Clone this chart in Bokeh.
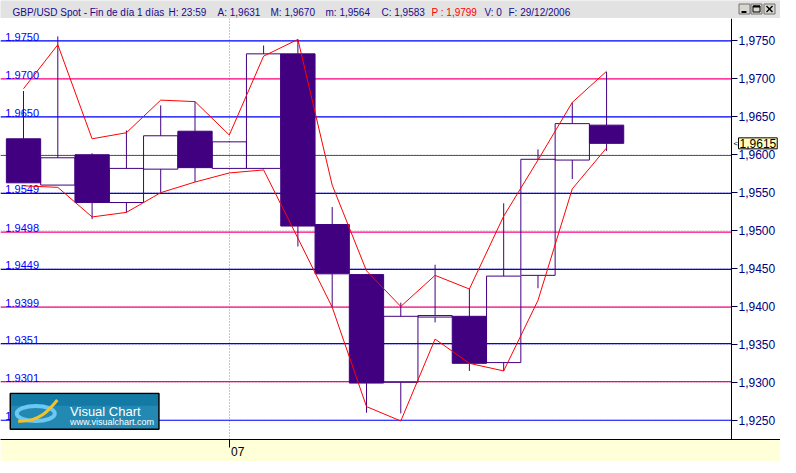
import numpy as np
from bokeh.plotting import figure
from bokeh.layouts import column
from bokeh.models import (Range1d, FixedTicker, CustomJSTickFormatter, Label,
                          ColumnDataSource, LinearAxis)
from bokeh.core.properties import value
from bokeh.embed import file_html
from bokeh.resources import INLINE

# ---------------- data ----------------
day = list(range(18))
open_ = [1.9621, 1.9560, 1.9600, 1.9537, 1.9581, 1.9631, 1.9582, 1.9582, 1.9733,
         1.9508, 1.9442, 1.9300, 1.9386, 1.9387, 1.9326, 1.9441, 1.9593, 1.9639]
high = [1.9684, 1.9756, 1.9602, 1.9632, 1.9665, 1.9670, 1.9618, 1.9744, 1.9752,
        1.9531, 1.9443, 1.9405, 1.9455, 1.9423, 1.9536, 1.9607, 1.9669, 1.9709]
low = [1.9563, 1.9560, 1.9515, 1.9524, 1.9550, 1.9564, 1.9581, 1.9581, 1.9479,
       1.9399, 1.9260, 1.9259, 1.9379, 1.9315, 1.9315, 1.9424, 1.9568, 1.9605]
close = [1.9563, 1.9596, 1.9537, 1.9582, 1.9625, 1.9583, 1.9617, 1.9733, 1.9506,
         1.9443, 1.9299, 1.9387, 1.9388, 1.9325, 1.9440, 1.9594, 1.9641, 1.9615]
env_upper = [1.9687, 1.9745, 1.9621, 1.9629, 1.9672, 1.9670, 1.9626, 1.9730, 1.9752,
             1.9560, 1.9447, 1.9400, 1.9441, 1.9423, 1.9519, 1.9593, 1.9669, 1.9710]
env_lower = [1.9559, 1.9557, 1.9518, 1.9524, 1.9550, 1.9564, 1.9576, 1.9580, 1.9490,
             1.9399, 1.9268, 1.9249, 1.9357, 1.9325, 1.9315, 1.9408, 1.9555, 1.9609]
level_labels = ["1.9750", "1.9700", "1.9650", "1.9599", "1.9549", "1.9498",
                "1.9449", "1.9399", "1.9351", "1.9301", "1.9250"]
axis_ticks = [1.9250, 1.9300, 1.9350, 1.9400, 1.9450, 1.9500,
              1.9550, 1.9600, 1.9650, 1.9700, 1.9750]
year_tick = [6]
year_label = ["07"]
last_price = 1.9615
last_price_text = "1,9615"

header_texts = ["GBP/USD Spot - Fin de día 1 días", "H: 23:59", "A: 1,9631", "M: 1,9670",
                "m: 1,9564", "C: 1,9583", "P : 1,9799", "V: 0", "F: 29/12/2006"]
header_x = [12, 168, 217, 270, 325, 381, 431, 484, 508]
header_colors = ["#1a0a8c"] * 6 + ["#ff0000", "#1a0a8c", "#1a0a8c"]

FONT = "Liberation Sans"
PURPLE = "#400080"
BLUE = "#0000ff"
PINK = "#ff0080"

# ---------------- header bar ----------------
W = 780
hdr = figure(frame_width=W, frame_height=18, x_range=Range1d(0, W), y_range=Range1d(18, 0),
             toolbar_location=None, output_backend="svg", x_axis_type=None, y_axis_type=None,
             min_border=0, min_border_left=0, min_border_right=0, min_border_top=0,
             min_border_bottom=0)
hdr.outline_line_color = None
hdr.grid.visible = False
hdr.background_fill_color = "#e2e2e2"
hdr.border_fill_color = "#e2e2e2"
hdr.text(x=header_x, y=[12] * len(header_x), text=header_texts, text_color=header_colors,
         text_font=value(FONT), text_font_size="10px", text_baseline="alphabetic")
bx = [W - 36, W - 24, W - 11]
hdr.rect(x=bx, y=[8.5] * 3, width=11, height=10, fill_color="#d8d6d0", line_color="#707070")
hdr.segment(x0=[bx[0] - 3], y0=[11.5], x1=[bx[0] + 2], y1=[11.5], line_color="black", line_width=2)
hdr.rect(x=[bx[1]], y=[8.5], width=7, height=6, fill_alpha=0, line_color="black", line_width=1)
hdr.segment(x0=[bx[1] - 3.5], y0=[6], x1=[bx[1] + 3.5], y1=[6], line_color="black", line_width=2)
hdr.segment(x0=[bx[2] - 3, bx[2] - 3], y0=[5.5, 11.5], x1=[bx[2] + 3, bx[2] + 3], y1=[11.5, 5.5],
            line_color="black", line_width=1.5)

# ---------------- main chart ----------------
X0, X1 = -0.671, 22.071      # full window width
AXIS_X = 20.643              # where the price axis stands
Y0, Y1 = 1.92246, 1.97796
p = figure(frame_width=W, frame_height=421, x_range=Range1d(X0, X1), y_range=Range1d(Y0, Y1),
           y_axis_location=None, toolbar_location=None, output_backend="svg",
           min_border_left=0, min_border_right=0, min_border_top=0, min_border_bottom=18)
p.outline_line_color = None
p.background_fill_color = "white"
p.border_fill_color = "#ffffd8"
p.ygrid.visible = False

# right price axis (drawn at a fixed place inside the window)
yax = LinearAxis(fixed_location=AXIS_X)
yax.ticker = FixedTicker(ticks=axis_ticks)
yax.formatter = CustomJSTickFormatter(code="return tick.toFixed(4).replace('.', ',');")
yax.axis_line_color = "black"
yax.axis_line_width = 1
yax.major_tick_out = 6
yax.major_tick_in = 0
yax.major_tick_line_color = "#000040"
yax.minor_tick_line_color = None
yax.major_label_standoff = 1
yax.major_label_text_font = FONT
yax.major_label_text_font_size = "12px"
yax.major_label_text_color = "#000080"
p.add_layout(yax, "right")

# bottom time axis
NBSP = "\u00a0"
p.xaxis.ticker = FixedTicker(ticks=year_tick)
p.xaxis.major_label_overrides = {t: NBSP * 5 + s for t, s in zip(year_tick, year_label)}
p.xaxis.axis_line_color = "black"
p.xaxis.major_tick_out = 8
p.xaxis.major_tick_in = 0
p.xaxis.major_tick_line_color = "black"
p.xaxis.minor_tick_line_color = None
p.xaxis.major_label_standoff = -3
p.xaxis.major_label_text_font = FONT
p.xaxis.major_label_text_font_size = "12px"
p.xaxis.major_label_text_color = "black"

p.xgrid.ticker = FixedTicker(ticks=year_tick)
p.xgrid.grid_line_color = "#909090"
p.xgrid.grid_line_dash = "1 2"
p.xgrid.grid_line_width = 1

# dotted price grid and coloured level lines (stop at the price axis)
n_t = len(axis_ticks)
p.segment(x0=[X0] * n_t, y0=axis_ticks, x1=[AXIS_X] * n_t, y1=axis_ticks,
          line_color="#bdbdbd", line_dash="1 2", line_width=1)
levels = [float(s) for s in level_labels]
n_l = len(levels)
level_colors = [BLUE if i % 2 == 0 else PINK for i in range(n_l)]
p.segment(x0=[X0] * n_l, y0=levels, x1=[AXIS_X] * n_l, y1=levels,
          line_color=level_colors, line_width=1.2)
p.text(x=[-0.5] * n_l, y=levels, text=level_labels, text_color=BLUE,
       text_font=value(FONT), text_font_size="11px", text_baseline="alphabetic",
       x_offset=-1, y_offset=-4)

# candles
o = np.array(open_); c = np.array(close); h = np.array(high); l = np.array(low)
src = ColumnDataSource(dict(
    x=day, top=np.maximum(o, c), bottom=np.minimum(o, c), high=h, low=l,
    alpha=np.where(c < o, 1.0, 0.0)))
p.segment(x0="x", y0="top", x1="x", y1="high", source=src, line_color=PURPLE, line_width=1)
p.segment(x0="x", y0="bottom", x1="x", y1="low", source=src, line_color=PURPLE, line_width=1)
p.vbar(x="x", width=1.0, top="top", bottom="bottom", source=src,
       fill_color=PURPLE, fill_alpha="alpha", line_color=PURPLE, line_width=1)

# envelope lines
p.line(day, env_upper, line_color="#ff0000", line_width=1)
p.line(day, env_lower, line_color="#ff0000", line_width=1)

# logo (reference pixel positions converted to chart coordinates)
def dx(px):
    return (px - 23.5) / 35.0

def dy(py):
    return 1.9750 - (py - 41.3) / 7874.0

p.quad(left=[dx(10)], right=[dx(161.7)], top=[dy(407.3)], bottom=[dy(444.3)],
       fill_color="#2389b2", line_color="black", line_width=1.5)
p.quad(left=[dx(11)], right=[dx(160.7)], top=[dy(408.3)], bottom=[dy(420)],
       fill_color="#127aa5", line_alpha=0)
p.ellipse(x=[dx(36)], y=[dy(428)], width=[38], height=[15], width_units="screen",
          height_units="screen", fill_alpha=0, line_color="#6cc8f2", line_width=4)
p.bezier(x0=[dx(18)], y0=[dy(436)], x1=[dx(58)], y1=[dy(414)],
         cx0=[dx(40)], cy0=[dy(437)], cx1=[dx(50)], cy1=[dy(424)],
         line_color="#f2c22c", line_width=3)
p.text(x=[dx(71)], y=[dy(425.5)], text=["Visual Chart"], text_color="white",
       text_font=value(FONT), text_font_size="13px", text_baseline="alphabetic")
p.text(x=[dx(71)], y=[dy(437)], text=["www.visualchart.com"], text_color="white",
       text_font=value(FONT), text_font_size="9px", text_baseline="alphabetic")

# last price tag on the axis
tag = Label(x=AXIS_X, y=last_price, x_offset=7, text=last_price_text, text_align="left",
            text_baseline="middle", text_font=FONT, text_font_size="12px", text_color="black",
            background_fill_color="#ffffc0", border_line_color="black", border_line_width=1)
try:
    tag.padding = 1
except Exception:
    pass
p.add_layout(tag)
arrow = Label(x=AXIS_X, y=last_price, x_offset=2, text="<", text_align="left",
              text_baseline="middle", text_font=FONT, text_font_size="8px", text_color="black")
p.add_layout(arrow)

layout = column(hdr, p, spacing=0)
open("out.html", "w").write(file_html(layout, INLINE))
